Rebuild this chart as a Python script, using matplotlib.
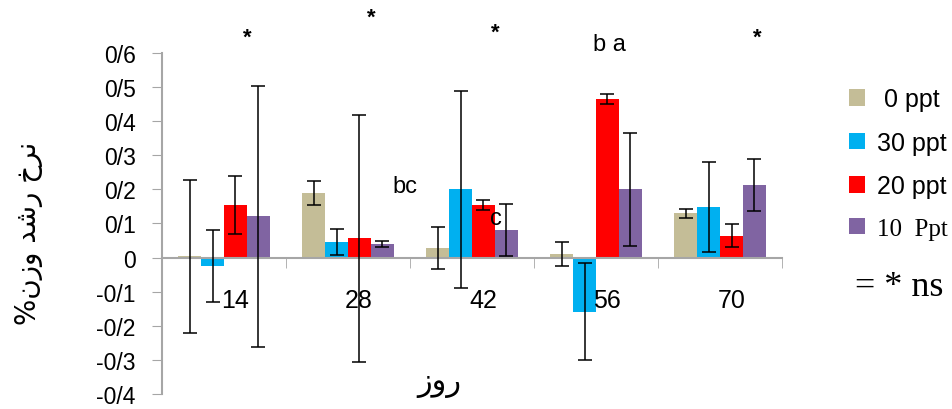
import numpy as np
import matplotlib
matplotlib.use('Agg')
import matplotlib.pyplot as plt

# days and series (growth %)
days = ['14', '28', '42', '56', '70']
labels = [' 0 ppt', '30 ppt', '20 ppt', '10  Ppt']
colors = ['#c4bd97', '#00b0f0', '#ff0000', '#8064a2']

vals_0 = [0.004, 0.189, 0.028, 0.010, 0.130]
vals_30 = [-0.024, 0.045, 0.200, -0.159, 0.148]
vals_20 = [0.154, 0.057, 0.154, 0.465, 0.064]
vals_10 = [0.121, 0.039, 0.081, 0.200, 0.212]

err_0 = [0.224, 0.035, 0.062, 0.036, 0.013]
err_30 = [0.106, 0.038, 0.288, 0.142, 0.132]
err_20 = [0.085, 0.362, 0.014, 0.015, 0.034]
err_10 = [0.383, 0.009, 0.077, 0.165, 0.076]

# significance marks: (x, y, text)
marks = [(0.19, 0.645, '*'), (1.19, 0.705, '*'), (2.19, 0.66, '*'), (4.30, 0.645, '*'),
         (3.105, 0.625, 'b a'), (1.46, 0.21, 'bc'), (2.19, 0.115, 'c')]

plt.rcParams['font.family'] = ['Liberation Sans', 'DejaVu Sans']

fig = plt.figure(figsize=(9.53, 4.10), dpi=100)
ax = fig.add_axes([0.170, 0.0366, 0.6506, 0.8317])

series = [vals_0, vals_30, vals_20, vals_10]
errs = [err_0, err_30, err_20, err_10]
x = np.arange(len(days))
width = 0.185
handles = []
for i, (v, e) in enumerate(zip(series, errs)):
    pos = x + (i - 1.5) * width
    b = ax.bar(pos, v, width, color=colors[i], zorder=2)
    ax.errorbar(pos, v, yerr=e, fmt='none', ecolor='black', elinewidth=1.1,
                capsize=4.7, capthick=1.1, zorder=3)
    handles.append(b)

ax.set_axisbelow(False)
ax.set_xlim(-0.5, 4.5)
ax.set_ylim(-0.4, 0.6)
ax.set_yticks(np.arange(-0.4, 0.61, 0.1))
ax.set_yticklabels(['-0/4', '-0/3', '-0/2', '-0/1', '0', '0/1', '0/2', '0/3', '0/4', '0/5', '0/6'])
# day labels sit a little right of the group centre (ticks themselves are hidden)
ax.set_xticks(x + 0.09)
ax.set_xticklabels(days)
ax.set_xticks(np.arange(-0.5, 4.6, 1), minor=True)
ax.tick_params(axis='x', which='major', length=0, pad=22, labelsize=18)
ax.tick_params(axis='x', which='minor', length=7, direction='out', color='#a6a6a6')
ax.tick_params(axis='y', length=7, color='#a6a6a6', pad=12, labelsize=16.5)

for s in ['top', 'right']:
    ax.spines[s].set_visible(False)
ax.spines['bottom'].set_position(('data', 0))
ax.spines['bottom'].set_color('#a6a6a6')
ax.spines['left'].set_color('#a6a6a6')
ax.spines['bottom'].set_linewidth(1.5)
ax.spines['left'].set_linewidth(1.5)

for mx, my, t in marks:
    if t == '*':
        ax.text(mx, my, t, ha='center', va='center', fontsize=16, fontweight='bold',
                clip_on=False, zorder=4)
    else:
        ax.text(mx, my, t, ha='center', va='center', fontsize=17, fontweight='medium',
                clip_on=False, zorder=4)

# Arabic labels in visual order with presentation forms
ax.text(0.448, 0.035, '\uFEAF\uFEED\uFEAD', transform=ax.transAxes, ha='center', va='center',
        fontsize=22, family='DejaVu Sans')
fig.text(0.03, 0.43, '%\uFEE5\uFEAF\uFEED \uFEAA\uFEB7\uFEAD \uFEA5\uFEAE\uFEE7', rotation=90,
         ha='center', va='center', fontsize=20, family='DejaVu Sans')

leg = fig.legend(handles, labels, loc='upper left', bbox_to_anchor=(0.891, 0.785),
                 frameon=False, fontsize=18, handlelength=0.65, handleheight=0.65,
                 handletextpad=0.45, labelspacing=0.78, borderaxespad=0, borderpad=0)
leg.get_texts()[3].set_family('Liberation Serif')
fig.text(0.897, 0.30, '= * ns', fontsize=26, family='Liberation Serif', va='center')

fig.savefig('out.png', dpi=100)
